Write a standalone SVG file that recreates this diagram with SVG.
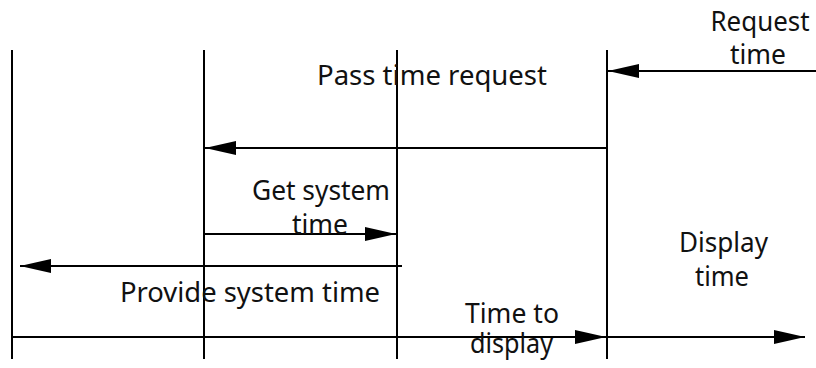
<svg xmlns="http://www.w3.org/2000/svg" width="816" height="368" viewBox="0 0 816 368">
  <style>
    .life { stroke: #000; stroke-width: 2; fill: none; }
    .msg { stroke: #000; stroke-width: 2; fill: none; marker-end: url(#head); }
    .lbl { font-family: "Noto Sans", "DejaVu Sans", sans-serif; font-size: 27px; fill: #111; text-anchor: middle; }
  </style>
  <defs>
    <marker id="head" markerUnits="userSpaceOnUse" markerWidth="32" markerHeight="16" refX="31" refY="7" orient="auto">
      <path d="M0,0 L31,7 L0,14 z" fill="#000"/>
    </marker>
  </defs>
  <rect width="816" height="368" fill="#fff"/>

  <!-- lifelines -->
  <g id="lifeline-display"><line class="life" x1="12" y1="50" x2="12" y2="359"/></g>
  <g id="lifeline-clock"><line class="life" x1="204" y1="50" x2="204" y2="359"/></g>
  <g id="lifeline-system"><line class="life" x1="397" y1="50" x2="397" y2="359"/></g>
  <g id="lifeline-user"><line class="life" x1="607" y1="50" x2="607" y2="359"/></g>

  <!-- messages -->
  <g id="connectors">
    <path class="msg" d="M816,71 L608,71"/>
    <path class="msg" d="M607,148 L205,148"/>
    <path class="msg" d="M204,234 L396,234"/>
    <path class="msg" d="M402,266 L20,266"/>
    <path class="msg" d="M12,337 L606,337"/>
    <path class="msg" d="M607,337 L805,337"/>
  </g>

  <!-- message labels -->
  <g id="labels">
    <text class="lbl" x="760" y="31" textLength="99" lengthAdjust="spacingAndGlyphs">Request</text>
    <text class="lbl" x="758" y="64" textLength="56" lengthAdjust="spacingAndGlyphs">time</text>
    <text class="lbl" x="432" y="85" textLength="230" lengthAdjust="spacingAndGlyphs">Pass time request</text>
    <text class="lbl" x="321" y="200" textLength="138" lengthAdjust="spacingAndGlyphs">Get system</text>
    <text class="lbl" x="320" y="234" textLength="56" lengthAdjust="spacingAndGlyphs">time</text>
    <text class="lbl" x="250" y="302" textLength="260" lengthAdjust="spacingAndGlyphs">Provide system time</text>
    <text class="lbl" x="512" y="323" textLength="94" lengthAdjust="spacingAndGlyphs">Time to</text>
    <text class="lbl" x="511.5" y="353" textLength="83" lengthAdjust="spacingAndGlyphs">display</text>
    <text class="lbl" x="723.5" y="252" textLength="89" lengthAdjust="spacingAndGlyphs">Display</text>
    <text class="lbl" x="722" y="286" textLength="54" lengthAdjust="spacingAndGlyphs">time</text>
  </g>
</svg>
